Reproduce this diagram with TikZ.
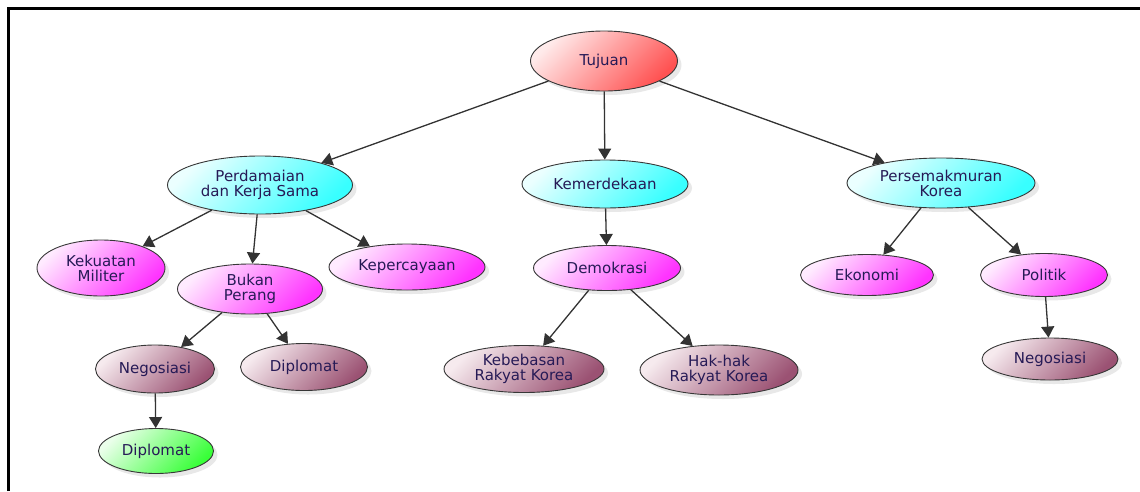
\documentclass[tikz,border=0pt]{standalone}
\usepackage{fontspec}
\setmainfont{DejaVu Sans}
\usetikzlibrary{shapes.geometric,arrows.meta,shadows}

\definecolor{txt}{RGB}{38,26,86}
\definecolor{rimcol}{RGB}{55,55,55}

\tikzset{
  bubble/.style={ellipse, draw=rimcol, line width=0.9pt, inner sep=0pt, align=center,
    text=txt, font=\fontsize{15}{15}\selectfont,
    drop shadow={shadow xshift=4pt, shadow yshift=-4pt, opacity=0.18}},
  goal/.style={bubble, top color=red!8, bottom color=red!68, shading angle=45},
  branch/.style={bubble, top color=cyan!8, bottom color=cyan!78, shading angle=45},
  sub/.style={bubble, top color=magenta!8, bottom color=magenta!80, shading angle=45},
  leaf/.style={bubble, top color={rgb,255:red,246;green,234;blue,238}, bottom color={rgb,255:red,155;green,82;blue,115}, shading angle=45},
  last/.style={bubble, top color=green!8, bottom color=green!78, shading angle=45},
  link/.style={draw=black!80, line width=1.3pt, -{Triangle[width=13pt,length=11pt]}}
}

\begin{document}
\begin{tikzpicture}[x=1pt,y=-1pt]
    \useasboundingbox (0,0) rectangle (1140,491);
    \draw[line width=2.5pt] (8.5,491) -- (8.5,8.5) -- (1140,8.5);

    % top
    \node[goal, minimum width=147pt, minimum height=60pt] (tujuan) at (604,61) {Tujuan};

    % second row
    \node[branch, minimum width=185pt, minimum height=58pt] (damai) at (260,185) {Perdamaian\\dan Kerja Sama};
    \node[branch, minimum width=166pt, minimum height=48pt] (merdeka) at (605,184) {Kemerdekaan};
    \node[branch, minimum width=188pt, minimum height=50pt] (makmur) at (941,183) {Persemakmuran\\Korea};

    % third row
    \node[sub, minimum width=128pt, minimum height=56pt] (militer) at (101,268) {Kekuatan\\Militer};
    \node[sub, minimum width=145pt, minimum height=50pt] (perang) at (250,289) {Bukan\\Perang};
    \node[sub, minimum width=156pt, minimum height=46pt] (percaya) at (407,267) {Kepercayaan};
    \node[sub, minimum width=147pt, minimum height=45pt] (demokrasi) at (607,268) {Demokrasi};
    \node[sub, minimum width=133pt, minimum height=41pt] (ekonomi) at (867,275) {Ekonomi};
    \node[sub, minimum width=127pt, minimum height=43pt] (politik) at (1044,275) {Politik};

    % fourth row
    \node[leaf, minimum width=119pt, minimum height=48pt] (nego) at (155,369) {Negosiasi};
    \node[leaf, minimum width=127pt, minimum height=47pt] (diplo) at (304,367) {Diplomat};
    \node[leaf, minimum width=160pt, minimum height=47pt] (bebas) at (524,369) {Kebebasan\\Rakyat Korea};
    \node[leaf, minimum width=158pt, minimum height=50pt] (hak) at (719,370) {Hak-hak\\Rakyat Korea};
    \node[leaf, minimum width=136pt, minimum height=42pt] (negokr) at (1050,359) {Negosiasi};

    % bottom
    \node[last, minimum width=115pt, minimum height=45pt] (diplokr) at (156,451) {Diplomat};

    \draw[link] (tujuan) -- (damai);
    \draw[link] (tujuan) -- (merdeka);
    \draw[link] (tujuan) -- (makmur);
    \draw[link] (damai) -- (militer);
    \draw[link] (damai) -- (perang);
    \draw[link] (damai) -- (percaya);
    \draw[link] (merdeka) -- (demokrasi);
    \draw[link] (makmur) -- (ekonomi);
    \draw[link] (makmur) -- (politik);
    \draw[link] (perang) -- (nego);
    \draw[link] (perang) -- (diplo);
    \draw[link] (demokrasi) -- (bebas);
    \draw[link] (demokrasi) -- (hak);
    \draw[link] (politik) -- (negokr);
    \draw[link] (nego) -- (diplokr);
\end{tikzpicture}
\end{document}
